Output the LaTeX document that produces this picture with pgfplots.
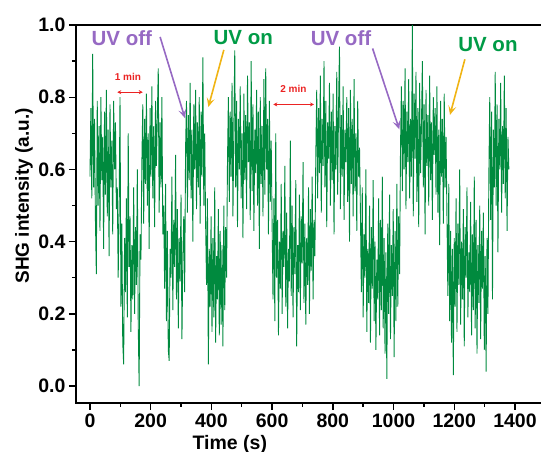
\documentclass[border=0pt]{standalone}
\usepackage{fontspec}
\setmainfont{Liberation Sans}
\usepackage{pgfplots}
\usepackage{pgfplotstable}
\pgfplotsset{compat=1.18}
\usetikzlibrary{arrows.meta}

\definecolor{sgreen}{RGB}{0,138,62}
\definecolor{uvpurple}{RGB}{150,105,195}
\definecolor{uvgreen}{RGB}{0,155,70}
\definecolor{uvorange}{RGB}{240,180,20}
\definecolor{minred}{RGB}{235,35,35}

% SHG signal, one value every 3 s
\pgfplotstableread[row sep=\\]{
y\\
0.58\\0.77\\0.52\\0.92\\0.55\\0.74\\0.46\\0.31\\0.79\\0.50\\0.72\\0.43\\0.80\\0.57\\0.69\\
0.38\\0.76\\0.53\\0.82\\0.47\\0.71\\0.36\\0.78\\0.55\\0.68\\0.42\\0.79\\0.60\\0.73\\0.49\\
0.55\\0.30\\0.48\\0.80\\0.22\\0.45\\0.12\\0.06\\0.41\\0.26\\0.52\\0.19\\0.70\\0.33\\
0.47\\0.15\\0.39\\0.24\\0.55\\0.20\\0.44\\0.28\\0.60\\0.17\\0.00\\0.42\\0.35\\
0.62\\0.78\\0.45\\0.74\\0.56\\0.81\\0.50\\0.70\\0.38\\0.77\\0.58\\0.83\\
0.52\\0.72\\0.44\\0.79\\0.61\\0.75\\0.88\\0.48\\0.73\\0.55\\0.80\\0.42\\
0.50\\0.27\\0.56\\0.18\\0.43\\0.10\\0.07\\0.38\\0.30\\0.58\\0.21\\0.46\\
0.33\\0.64\\0.24\\0.49\\0.16\\0.41\\0.29\\0.53\\0.13\\0.36\\0.47\\0.26\\
0.66\\0.79\\0.48\\0.75\\0.57\\0.84\\0.52\\0.71\\0.40\\0.78\\0.60\\
0.82\\0.49\\0.73\\0.55\\0.80\\0.45\\0.76\\0.58\\0.91\\0.50\\0.70\\
0.45\\0.28\\0.52\\0.06\\0.38\\0.22\\0.47\\0.15\\0.41\\0.19\\0.55\\0.12\\
0.36\\0.24\\0.49\\0.14\\0.43\\0.17\\0.39\\0.11\\0.50\\0.21\\0.44\\0.30\\
0.62\\0.80\\0.51\\0.76\\0.58\\0.84\\0.47\\0.72\\0.93\\0.55\\0.79\\0.44\\
0.74\\0.60\\0.83\\0.52\\0.70\\0.41\\0.81\\0.57\\0.75\\0.49\\0.86\\0.62\\
0.73\\0.46\\0.90\\0.54\\0.78\\0.43\\0.71\\0.59\\0.82\\0.50\\0.76\\0.38\\
0.80\\0.56\\0.72\\0.47\\0.85\\0.53\\0.88\\0.60\\0.74\\0.42\\0.79\\0.51\\0.68\\
0.45\\0.24\\0.52\\0.18\\0.70\\0.30\\0.46\\0.14\\0.40\\0.27\\0.56\\0.20\\
0.43\\0.33\\0.61\\0.22\\0.48\\0.16\\0.38\\0.29\\0.68\\0.25\\0.50\\0.19\\
0.44\\0.31\\0.57\\0.11\\0.39\\0.26\\0.53\\0.21\\0.47\\0.34\\0.62\\0.23\\
0.45\\0.17\\0.41\\0.28\\0.55\\0.20\\0.49\\0.32\\0.58\\0.24\\0.46\\0.36\\
0.64\\0.82\\0.52\\0.77\\0.59\\0.86\\0.48\\0.74\\0.61\\0.90\\0.55\\0.79\\
0.44\\0.73\\0.63\\0.84\\0.50\\0.76\\0.57\\0.81\\0.42\\0.72\\0.60\\0.87\\
0.53\\0.78\\0.94\\0.49\\0.75\\0.58\\0.83\\0.46\\0.71\\0.62\\0.80\\0.51\\
0.77\\0.40\\0.82\\0.56\\0.74\\0.47\\0.85\\0.54\\0.70\\0.43\\0.79\\0.58\\0.66\\
0.48\\0.26\\0.55\\0.19\\0.42\\0.30\\0.60\\0.15\\0.38\\0.23\\0.50\\
0.12\\0.44\\0.27\\0.57\\0.18\\0.40\\0.10\\0.35\\0.24\\0.52\\0.14\\
0.46\\0.21\\0.58\\0.16\\0.41\\0.09\\0.37\\0.02\\0.45\\0.20\\0.53\\
0.13\\0.39\\0.25\\0.49\\0.08\\0.43\\0.18\\0.56\\0.22\\0.47\\0.31\\
0.66\\0.83\\0.54\\0.79\\0.60\\0.88\\0.49\\0.76\\0.62\\0.85\\0.52\\0.74\\0.58\\
1.00\\0.47\\0.81\\0.63\\0.87\\0.51\\0.77\\0.44\\0.84\\0.59\\0.72\\0.90\\0.55\\
0.78\\0.42\\0.82\\0.61\\0.75\\0.50\\0.86\\0.57\\0.73\\0.46\\0.80\\0.64\\
0.77\\0.53\\0.83\\0.48\\0.71\\0.39\\0.79\\0.58\\0.74\\0.45\\0.81\\0.55\\0.69\\
0.47\\0.25\\0.56\\0.18\\0.43\\0.12\\0.38\\0.03\\0.41\\0.22\\0.52\\0.15\\
0.45\\0.28\\0.60\\0.17\\0.40\\0.24\\0.49\\0.11\\0.44\\0.30\\0.55\\0.19\\
0.37\\0.26\\0.51\\0.14\\0.42\\0.21\\0.58\\0.16\\0.46\\0.09\\0.39\\
0.23\\0.50\\0.13\\0.43\\0.27\\0.48\\0.10\\0.36\\0.04\\0.41\\0.20\\
0.58\\0.80\\0.46\\0.76\\0.24\\0.71\\0.55\\0.87\\0.50\\0.78\\0.37\\0.74\\
0.60\\0.84\\0.48\\0.72\\0.56\\0.86\\0.52\\0.77\\0.43\\0.69\\0.60\\
}\shg

\begin{document}
\begin{tikzpicture}
\begin{axis}[
  at={(0,0)}, anchor=south west,
  scale only axis,
  width=469pt, height=378pt,
  xmin=-46, xmax=1499,
  ymin=-0.047, ymax=1.0,
  xtick={0,200,400,600,800,1000,1200,1400},
  minor xtick={100,300,500,700,900,1100,1300},
  ytick={0,0.2,0.4,0.6,0.8,1.0},
  minor ytick={0.1,0.3,0.5,0.7,0.9},
  xtick pos=bottom, ytick pos=left,
  tick align=outside,
  major tick length=7pt, minor tick length=4pt,
  every tick/.style={black, line width=1.4pt},
  axis line style={black, line width=2pt},
  /pgf/number format/assume math mode=true,
  yticklabel style={/pgf/number format/.cd, fixed, fixed zerofill, precision=1},
  xticklabel style={/pgf/number format/.cd, fixed, set thousands separator={}},
  tick label style={font=\bfseries\fontsize{19.5}{20}\selectfont},
  xlabel={Time (s)},
  ylabel={SHG intensity (a.u.)},
  xlabel style={at={(axis description cs:0.328,0)}, anchor=north, inner sep=0pt,
    yshift=-32pt, font=\bfseries\fontsize{19.5}{20}\selectfont},
  ylabel style={at={(axis description cs:0,0.548)}, anchor=center,
    yshift=52pt, font=\bfseries\fontsize{19}{20}\selectfont},
]
\addplot[draw=sgreen, line width=0.9pt, line join=bevel] table[x expr=\coordindex*3, y=y] {\shg};

\node[uvpurple, font=\bfseries\fontsize{20.5}{21}\selectfont] at (axis cs:105,0.964) {UV off};
\node[uvgreen, font=\bfseries\fontsize{20.5}{21}\selectfont] at (axis cs:505,0.965) {UV on};
\node[uvpurple, font=\bfseries\fontsize{20.5}{21}\selectfont] at (axis cs:827,0.964) {UV off};
\node[uvgreen, font=\bfseries\fontsize{20.5}{21}\selectfont] at (axis cs:1311,0.945) {UV on};

\draw[uvpurple, line width=1.6pt, -{Stealth[length=9pt, width=8pt, inset=4pt]}]
  (axis cs:231,0.967) -- (axis cs:313,0.742);
\draw[uvorange, line width=1.6pt, -{Stealth[length=9pt, width=8pt, inset=4pt]}]
  (axis cs:441,0.931) -- (axis cs:390,0.773);
\draw[uvpurple, line width=1.6pt, -{Stealth[length=9pt, width=8pt, inset=4pt]}]
  (axis cs:931,0.935) -- (axis cs:1019,0.711);
\draw[uvorange, line width=1.6pt, -{Stealth[length=9pt, width=8pt, inset=4pt]}]
  (axis cs:1235,0.905) -- (axis cs:1186,0.751);

\draw[minred, line width=0.8pt, {Stealth[length=4pt, width=4pt]}-{Stealth[length=4pt, width=4pt]}]
  (axis cs:90,0.814) -- (axis cs:174,0.814);
\node[minred, font=\bfseries\fontsize{10}{10}\selectfont] at (axis cs:125,0.857) {1 min};
\draw[minred, line width=0.8pt, {Stealth[length=4pt, width=4pt]}-{Stealth[length=4pt, width=4pt]}]
  (axis cs:604,0.780) -- (axis cs:738,0.780);
\node[minred, font=\bfseries\fontsize{10}{10}\selectfont] at (axis cs:670,0.824) {2 min};
\end{axis}
\pgfresetboundingbox
\path[use as bounding box] (-76pt,-49pt) rectangle (465pt,403pt);
\end{tikzpicture}
\end{document}
